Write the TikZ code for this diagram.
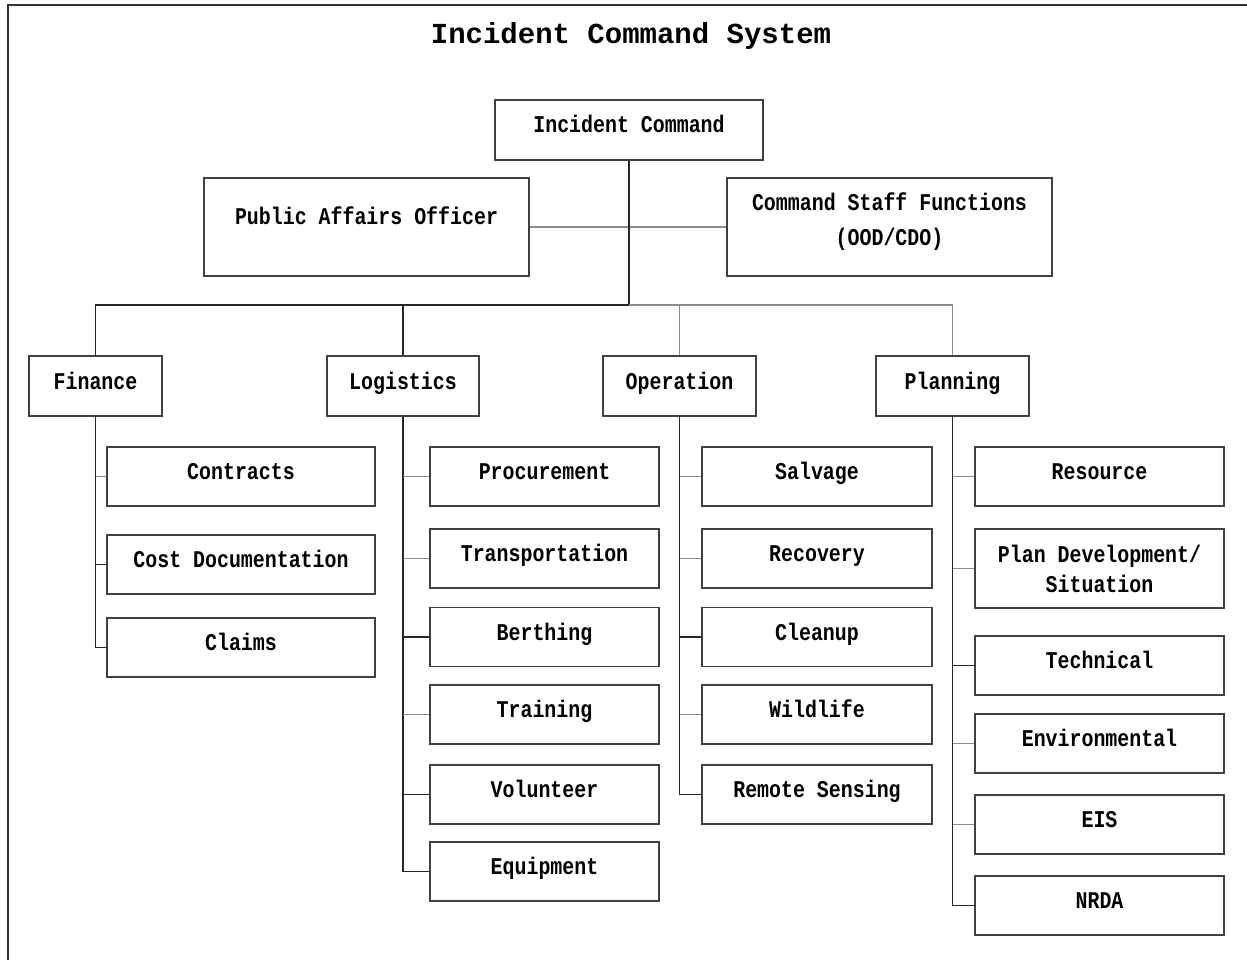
\documentclass[tikz,border=0pt]{standalone}
\usepackage{fontspec}
\newfontfamily\boxfont[FakeStretch=0.83]{Liberation Mono}
\newfontfamily\titlefont{Liberation Mono}
\begin{document}
\begin{tikzpicture}[
        x=1pt, y=-1pt,
        every node/.style={inner sep=0pt, font=\boxfont\bfseries\fontsize{24}{30}\selectfont},
        orgbox/.style={draw=black!75, line width=1.6pt, text height=15pt, text depth=9pt},
        top/.style={orgbox, minimum width=268pt, minimum height=60pt},
        staff/.style={orgbox, minimum width=325pt, minimum height=98pt},
        section/.style={orgbox, minimum height=60pt},
        finkid/.style={orgbox, minimum width=268pt, minimum height=59pt},
        logkid/.style={orgbox, minimum width=229pt, minimum height=59pt},
        oprkid/.style={orgbox, minimum width=230pt, minimum height=59pt},
        plnkid/.style={orgbox, minimum width=249pt, minimum height=59pt},
        link/.style={draw=black!85, line width=1.6pt},
        faint/.style={draw=black!45, line width=1.6pt},
    ]
    \useasboundingbox (0,0) rectangle (1247,960);
    \draw[black!80, line width=2pt] (8,960) -- (8,5) -- (1247,5);
    \node[font=\titlefont\bfseries\fontsize{29}{34}\selectfont] (title) at (631,36) {Incident Command System};

    % command level
    \node[top] (ic) at (629,130) {Incident Command};
    \node[staff, text depth=21pt] (pao) at (366.5,227) {Public Affairs Officer};
    \node[staff, align=center, text height=36pt, text depth=0pt,
        font=\boxfont\bfseries\fontsize{24}{35}\selectfont] (csf) at (889.5,227) {Command Staff Functions\\(OOD/CDO)};
    \coordinate (hub) at (629,305);

    % sections
    \node[section, minimum width=133pt] (fin) at (95.5,386) {Finance};
    \node[section, minimum width=152pt] (log) at (403,386) {Logistics};
    \node[section, minimum width=153pt] (opr) at (679.5,386) {Operation};
    \node[section, minimum width=153pt] (pln) at (952.5,386) {Planning};

    % finance units
    \node[finkid] (contracts) at (241,476.5) {Contracts};
    \node[finkid] (costdoc) at (241,564.5) {Cost Documentation};
    \node[finkid] (claims) at (241,647.5) {Claims};

    % logistics units
    \node[logkid] (procure) at (544.5,476.5) {Procurement};
    \node[logkid] (transport) at (544.5,558.5) {Transportation};
    \node[logkid] (berthing) at (544.5,637) {Berthing};
    \node[logkid] (training) at (544.5,714.5) {Training};
    \node[logkid] (volunteer) at (544.5,794.5) {Volunteer};
    \node[logkid] (equipment) at (544.5,871.5) {Equipment};

    % operation units
    \node[oprkid] (salvage) at (817,476.5) {Salvage};
    \node[oprkid] (recovery) at (817,558.5) {Recovery};
    \node[oprkid] (cleanup) at (817,637) {Cleanup};
    \node[oprkid] (wildlife) at (817,714.5) {Wildlife};
    \node[oprkid] (sensing) at (817,794.5) {Remote Sensing};

    % planning units
    \node[plnkid] (resource) at (1099.5,476.5) {Resource};
    \node[plnkid, minimum height=79pt, align=center, text height=47pt, text depth=0pt] (plandev) at (1099.5,568.5) {Plan Development/\\Situation};
    \node[plnkid] (technical) at (1099.5,665.5) {Technical};
    \node[plnkid] (environ) at (1099.5,743.5) {Environmental};
    \node[plnkid] (eis) at (1099.5,824.5) {EIS};
    \node[plnkid] (nrda) at (1099.5,905.5) {NRDA};

    % connectors
    \draw[faint] (pao.east) -- (csf.west);
    \draw[link] (ic.south) -- (hub);
    \draw[link] (fin.north) |- (hub);
    \draw[link] (log.north) -- (log.north |- hub);
    \draw[faint] (hub) -| (pln.north);
    \draw[faint] (opr.north) -- (opr.north |- hub);

    \draw[link] (fin.south) |- (claims.west);
    \draw[link] (log.south) |- (equipment.west);
    \draw[link] (opr.south) |- (sensing.west);
    \draw[link] (pln.south) |- (nrda.west);

    \foreach \kid/\boss in {contracts/fin, procure/log, transport/log, training/log,
        salvage/opr, recovery/opr, wildlife/opr, resource/pln, plandev/pln, environ/pln, eis/pln}
        \draw[faint] (\kid.west) -- (\kid.west -| \boss.south);
    \foreach \kid/\boss in {costdoc/fin, berthing/log, volunteer/log, cleanup/opr, technical/pln}
        \draw[link] (\kid.west) -- (\kid.west -| \boss.south);
\end{tikzpicture}
\end{document}
